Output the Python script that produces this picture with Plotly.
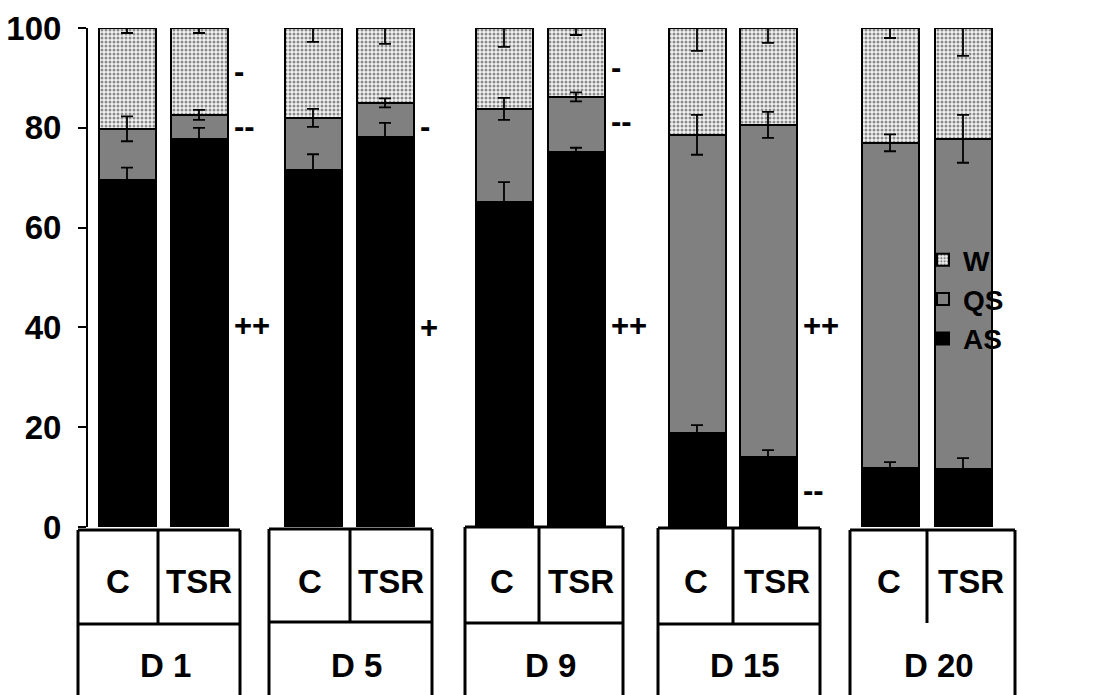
import plotly.graph_objects as go

# ---------------- data ----------------
groups = ["D 1", "D 5", "D 9", "D 15", "D 20"]
treatments = ["C", "TSR"]

as_c = [69.5, 71.5, 65.1, 18.8, 11.8]
as_tsr = [77.7, 78.2, 75.2, 14.0, 11.6]
qs_c = [10.3, 10.5, 18.7, 59.8, 65.2]
qs_tsr = [4.9, 6.8, 11.0, 66.6, 66.2]
w_c = [20.2, 18.0, 16.2, 21.4, 23.0]
w_tsr = [17.4, 15.0, 13.8, 19.4, 22.2]

as_c_err = [2.5, 3.2, 4.0, 1.6, 1.2]
as_tsr_err = [2.3, 2.8, 0.8, 1.4, 2.2]
qs_c_err = [2.5, 1.8, 2.2, 4.0, 1.7]
qs_tsr_err = [1.0, 0.9, 0.9, 2.6, 4.8]
w_c_err = [1.0, 2.8, 3.8, 4.6, 2.0]
w_tsr_err = [1.0, 3.2, 1.4, 3.0, 5.6]

sig_as = ["++", "+", "++", "--", ""]
sig_qs = ["--", "-", "--", "++", ""]
sig_w = ["-", "", "-", "", ""]

y_ticks = [0, 20, 40, 60, 80, 100]

# ---------------- layout constants (pixels) ----------------
W, H = 1108, 695
PL, PT, PB = 88, 28, 527          # plot area left / top / bottom (px)
PH = PB - PT
PW = W - PL
c_centers = [127, 313, 504, 697, 890]
tsr_centers = [199, 385, 576, 768, 963]
bar_w = 57
# table boxes: left, right, top, divider x, row line y (None = no line)
boxes = [
    (78, 240, 530, 158, 624),
    (269, 432, 529, 350, 622),
    (465, 623, 527, 539, 623),
    (658, 820, 528, 733, 624),
    (850, 1015, 530, 927, None),
]
# y positions (data units) for significance marks
sig_as_y = [40.3, 40.0, 40.3, 7.4, 0]
sig_qs_y = [80.2, 80.2, 81.2, 40.3, 0]
sig_w_y = [91.2, 0, 92.0, 0, 0]

FONT = "Liberation Sans, Arial, sans-serif"


def px_y(py):
    return (PB - py) / PH


def px_x(px):
    return (px - PL) / PW


def interleave(a, b):
    out = []
    for u, v in zip(a, b):
        out += [u, v]
    return out


xs = interleave(c_centers, tsr_centers)
as_v = interleave(as_c, as_tsr)
qs_v = interleave(qs_c, qs_tsr)
w_v = interleave(w_c, w_tsr)
as_e = interleave(as_c_err, as_tsr_err)
qs_e = interleave(qs_c_err, qs_tsr_err)
w_e = interleave(w_c_err, w_tsr_err)

fig = go.Figure()

fig.add_trace(go.Bar(
    x=xs, y=as_v, width=bar_w, name="AS", legendgroup="AS",
    marker=dict(color="black", line=dict(color="black", width=2)),
))
fig.add_trace(go.Bar(
    x=xs, y=qs_v, width=bar_w, name="QS", legendgroup="QS",
    marker=dict(color="#808080", line=dict(color="black", width=2)),
))
fig.add_trace(go.Bar(
    x=xs, y=w_v, width=bar_w, name="W", legendgroup="W",
    marker=dict(color="white", line=dict(color="black", width=2),
                pattern=dict(shape=".", fgcolor="#222222", bgcolor="#f2f2f2",
                             size=4, solidity=0.45)),
))

# error bars drawn on top of the stacked segments
tops_as = as_v
tops_qs = [a + q for a, q in zip(as_v, qs_v)]
tops_w = [a + q + w for a, q, w in zip(as_v, qs_v, w_v)]
for tops, err, up in [(tops_as, as_e, True), (tops_qs, qs_e, True), (tops_w, w_e, False)]:
    fig.add_trace(go.Scatter(
        x=xs, y=tops, mode="markers", showlegend=False, hoverinfo="skip",
        marker=dict(size=1, opacity=0),
        error_y=dict(type="data", symmetric=False,
                     array=err if up else [0] * len(err), arrayminus=err,
                     color="black", thickness=1.8, width=6),
    ))

annotations = []
# significance marks
for i in range(len(groups)):
    xl = tsr_centers[i] + bar_w / 2 + 4
    for lab, yy in [(sig_as[i], sig_as_y[i]), (sig_qs[i], sig_qs_y[i]), (sig_w[i], sig_w_y[i])]:
        if lab:
            annotations.append(dict(
                x=xl, y=yy, xref="x", yref="y", text=lab, showarrow=False,
                xanchor="left", yanchor="middle",
                font=dict(family=FONT, size=31, color="black", weight="bold")))

shapes = []
LW = 3
TFS = 33
for i, (l, r, t, d, rowy) in enumerate(boxes):
    bottom = H + 5
    shapes.append(dict(type="line", xref="paper", yref="paper",
                       x0=px_x(l), x1=px_x(l), y0=px_y(t), y1=px_y(bottom),
                       line=dict(color="black", width=LW)))
    shapes.append(dict(type="line", xref="paper", yref="paper",
                       x0=px_x(r), x1=px_x(r), y0=px_y(t), y1=px_y(bottom),
                       line=dict(color="black", width=LW)))
    shapes.append(dict(type="line", xref="paper", yref="paper",
                       x0=px_x(l), x1=px_x(r), y0=px_y(t), y1=px_y(t),
                       line=dict(color="black", width=LW)))
    div_end = rowy if rowy is not None else 623
    shapes.append(dict(type="line", xref="paper", yref="paper",
                       x0=px_x(d), x1=px_x(d), y0=px_y(t), y1=px_y(div_end),
                       line=dict(color="black", width=LW)))
    if rowy is not None:
        shapes.append(dict(type="line", xref="paper", yref="paper",
                           x0=px_x(l), x1=px_x(r), y0=px_y(rowy), y1=px_y(rowy),
                           line=dict(color="black", width=LW)))
    annotations.append(dict(x=(l + d) / 2, y=px_y(581), xref="x", yref="paper",
                            xanchor="center", yanchor="middle",
                            text=treatments[0], showarrow=False,
                            font=dict(family=FONT, size=TFS, color="black", weight="bold")))
    annotations.append(dict(x=(d + r) / 2, y=px_y(581), xref="x", yref="paper",
                            xanchor="center", yanchor="middle",
                            text=treatments[1], showarrow=False,
                            font=dict(family=FONT, size=TFS, color="black", weight="bold")))
    annotations.append(dict(x=(l + r) / 2 + 6, y=px_y(665), xref="x", yref="paper",
                            xanchor="center", yanchor="middle",
                            text=groups[i], showarrow=False,
                            font=dict(family=FONT, size=TFS, color="black", weight="bold")))

fig.update_layout(
    width=W, height=H,
    margin=dict(l=PL, r=0, t=PT, b=H - PB, pad=0),
    barmode="stack",
    bargap=0,
    plot_bgcolor="white", paper_bgcolor="white",
    showlegend=True,
    legend=dict(x=px_x(923), y=px_y(235), xanchor="left", yanchor="top",
                traceorder="reversed", tracegroupgap=3,
                font=dict(family=FONT, size=28, color="black", weight="bold"),
                bgcolor="rgba(0,0,0,0)"),
    xaxis=dict(range=[PL, W], visible=False, fixedrange=True),
    yaxis=dict(range=[0, 100], tickvals=y_ticks, showgrid=False, zeroline=False,
               showline=True, linecolor="black", linewidth=2,
               ticks="outside", ticklen=8, tickwidth=2, tickcolor="black",
               ticklabelstandoff=10,
               tickfont=dict(family=FONT, size=33, color="black", weight="bold")),
    shapes=shapes,
    annotations=annotations,
)

fig.write_html("out.html")
